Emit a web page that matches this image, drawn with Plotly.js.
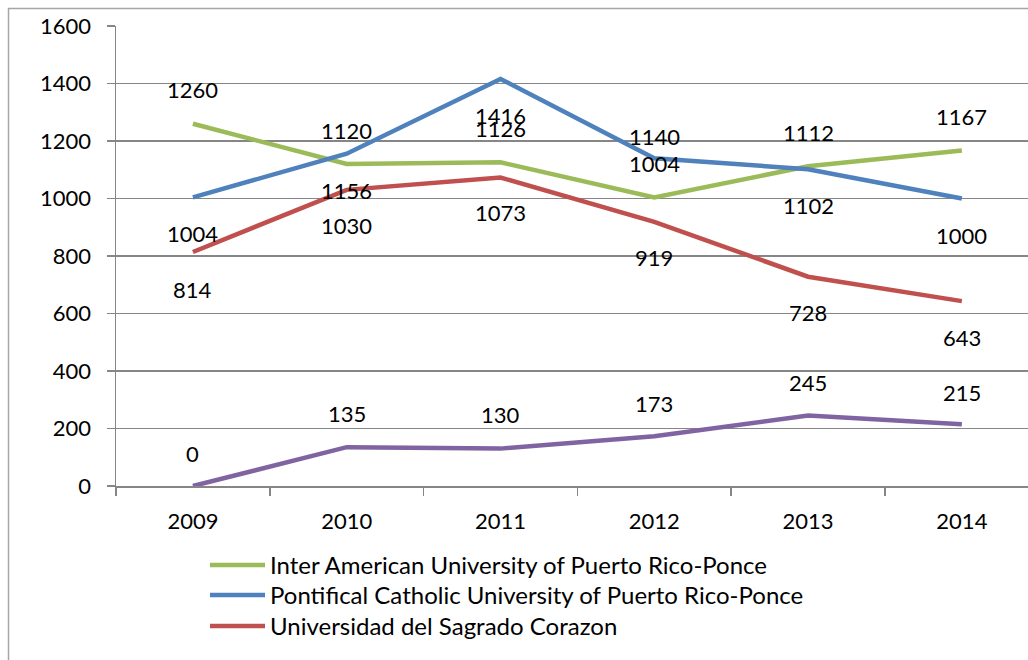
<!DOCTYPE html>
<html>
<head>
<meta charset="utf-8">
<script src="https://cdn.plot.ly/plotly-3.0.1.min.js"></script>
<style>html,body{margin:0;padding:0;background:#fff;overflow:hidden}#chart{width:1028px;height:660px}</style>
</head>
<body>
<div id="chart"></div>
<script>
var years = ['2009', '2010', '2011', '2012', '2013', '2014'];
var seriesNames = [
  'Inter American University of Puerto Rico-Ponce',
  'Pontifical Catholic University of Puerto Rico-Ponce',
  'Universidad del Sagrado Corazon',
  'Other'
];
var interAmerican = [1260, 1120, 1126, 1004, 1112, 1167];
var pontifical = [1004, 1156, 1416, 1140, 1102, 1000];
var sagrado = [814, 1030, 1073, 919, 728, 643];
var fourth = [0, 135, 130, 173, 245, 215];
var yTicks = [0, 200, 400, 600, 800, 1000, 1200, 1400, 1600];

// styling (not data)
var colors = ['#9BBB59', '#4F81BD', '#C0504D', '#8064A2'];
var labelShift = [
  [34, 34, 34, 34, 34, 34],
  [-36, -37, -37, 22, -36, -37],
  [-38, -36, -35, -36, -36, -36],
  [33, 34, 34, 33, 33, 32]
];
var allSeries = [interAmerican, pontifical, sagrado, fourth];
var FONT = 'Lato, "Open Sans", sans-serif';
var NUMSIZE = 22, LEGSIZE = 24;
var legendIds = ['legend', 'legend2', 'legend3'];
var legendRowCenters = [565, 595, 626];

var traces = allSeries.map(function (vals, i) {
  var t = {
    x: years, y: vals, type: 'scatter', mode: 'lines',
    name: seriesNames[i],
    line: {color: colors[i], width: 4.5},
    showlegend: i < 3,
    hoverinfo: 'skip'
  };
  if (i < 3) t.legend = legendIds[i];
  return t;
});

var annotations = [];
allSeries.forEach(function (vals, i) {
  vals.forEach(function (v, j) {
    annotations.push({
      x: j, y: v, xref: 'x', yref: 'y', text: String(v),
      showarrow: false, yshift: labelShift[i][j],
      font: {family: FONT, size: NUMSIZE, color: '#000'}
    });
  });
});

var W = 1028, H = 660, L = 116, R = 0, T = 26, B = 174;
var pw = W - L - R, ph = H - T - B;
function px2x(p) { return (p - L) / pw; }
function py2y(p) { return (H - B - p) / ph; }

var layout = {
  width: W, height: H,
  margin: {l: L, r: R, t: T, b: B, pad: 0},
  paper_bgcolor: '#fff', plot_bgcolor: '#fff',
  font: {family: FONT, size: NUMSIZE, color: '#000'},
  xaxis: {
    type: 'category', range: [-0.5, 5.43],
    showgrid: false, zeroline: false,
    showline: true, linecolor: '#868686', linewidth: 1.5,
    ticks: 'outside', tickson: 'boundaries', ticklen: 8, tickcolor: '#868686', tickwidth: 1.5,
    ticklabelstandoff: 15,
    tickfont: {family: FONT, size: NUMSIZE, color: '#000'}
  },
  yaxis: {
    range: [0, 1600], tickvals: yTicks,
    showgrid: true, gridcolor: '#868686', gridwidth: 1.5,
    zeroline: false, showline: true, linecolor: '#868686', linewidth: 1.5,
    ticks: 'outside', ticklen: 8, tickcolor: '#868686', tickwidth: 1.5,
    ticklabelstandoff: 11,
    tickfont: {family: FONT, size: NUMSIZE, color: '#000'}
  },
  annotations: annotations,
  shapes: [{
    type: 'rect', xref: 'paper', yref: 'paper',
    x0: px2x(8.5), x1: px2x(1040), y0: py2y(700), y1: py2y(8.5),
    line: {color: '#A6A6A6', width: 1.5}, fillcolor: 'rgba(0,0,0,0)', layer: 'below'
  }],
  showlegend: true
};
legendIds.forEach(function (id, k) {
  layout[id] = {
    x: px2x(205), y: py2y(legendRowCenters[k] - 22), xanchor: 'left', yanchor: 'top',
    orientation: 'v', bgcolor: 'rgba(0,0,0,0)', tracegroupgap: 0,
    itemwidth: 55,
    font: {family: FONT, size: LEGSIZE, color: '#000'}
  };
});

Plotly.newPlot('chart', traces, layout, {displayModeBar: false, staticPlot: true});
</script>
</body>
</html>
